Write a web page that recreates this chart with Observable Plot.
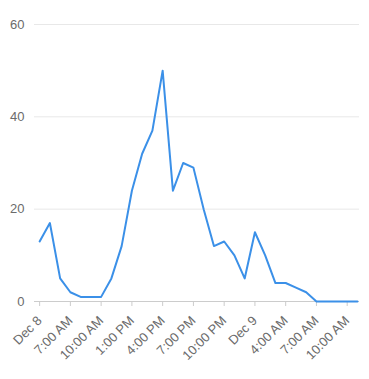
<!DOCTYPE html>
<html>
<head>
<meta charset="utf-8">
<script src="https://cdn.jsdelivr.net/npm/d3@7"></script>
<script src="https://cdn.jsdelivr.net/npm/@observablehq/plot@0.6"></script>
<style>
  html, body { margin: 0; padding: 0; background: #fff; }
  svg { display: block; }
</style>
</head>
<body>
<div id="chart"></div>
<script>
const values = [13, 17, 5, 2, 1, 1, 1, 5, 12, 24, 32, 37, 50, 24, 30, 29, 20, 12, 13, 10, 5, 15, 10, 4, 4, 3, 2, 0, 0, 0, 0, 0];
const tickIndex = [0, 3, 6, 9, 12, 15, 18, 21, 24, 27, 30];
const tickLabels = ["Dec 8", "7:00 AM", "10:00 AM", "1:00 PM", "4:00 PM", "7:00 PM", "10:00 PM", "Dec 9", "4:00 AM", "7:00 AM", "10:00 AM"];
const yTicks = [0, 20, 40, 60];

const data = values.map((v, i) => ({i, v}));
const labelOf = new Map(tickIndex.map((t, k) => [t, tickLabels[k]]));

const chart = Plot.plot({
  width: 369,
  height: 379,
  marginLeft: 34,
  marginRight: 10,
  marginTop: 24,
  marginBottom: 78,
  style: {fontFamily: "'Liberation Sans', Arial, sans-serif", fontSize: "13px", color: "#6b6b6b", background: "#fff"},
  x: {domain: [-0.5, 31.2]},
  y: {domain: [0, 60]},
  marks: [
    Plot.gridY(yTicks, {stroke: "#e8e8e8", strokeOpacity: 1}),
    Plot.axisY(yTicks, {tickSize: 0, tickPadding: 10, label: null, fill: "#6b6b6b", fontSize: 13}),
    Plot.ruleY([0], {stroke: "#cccccc"}),
    Plot.axisX(tickIndex, {tickSize: 5, stroke: "#cccccc", tickRotate: -45, tickPadding: 12, tickFormat: d => labelOf.get(d), label: null, fill: "#6b6b6b", fontSize: 13}),
    Plot.line(data, {x: "i", y: "v", stroke: "#3b90e8", strokeWidth: 2})
  ]
});
document.getElementById("chart").appendChild(chart);
</script>
</body>
</html>
